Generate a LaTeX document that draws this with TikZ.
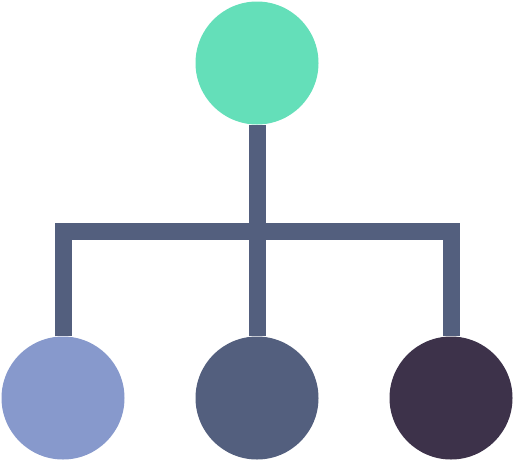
\documentclass[tikz,border=0pt]{standalone}
\usepackage{xcolor}
\usepackage{tikz}
\usetikzlibrary{positioning, backgrounds}
\definecolor{mint}{RGB}{100,223,185}
\definecolor{paleblue}{RGB}{135,153,204}
\definecolor{slate}{RGB}{83,95,126}
\definecolor{plum}{RGB}{61,50,74}

\begin{document}
\begin{tikzpicture}[x=1pt,y=-1pt,node distance=194pt,
                    main node/.style={circle,minimum size=123pt,inner sep=0pt}, link/.style={draw=slate,line width=17pt,line join=miter}]

  \useasboundingbox (0,0) rectangle (513,461);

  \node[main node,fill=mint] (top) at (257,63) {};
  \node[main node,fill=slate] (2) at (257,398) {};
  \node[main node,fill=paleblue] (1) [left of=2] {};
  \node[main node,fill=plum] (3) [right of=2] {};
  \coordinate (bar) at (257,231);

  \begin{scope}[on background layer]
    \draw[link] (top) -- (2);
    \draw[link] (1) |- (bar) -| (3);
  \end{scope}

\end{tikzpicture}
\end{document}
